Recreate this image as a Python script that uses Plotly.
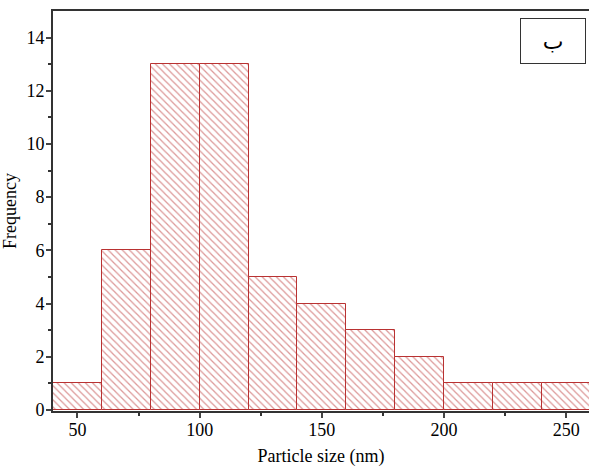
import plotly.graph_objects as go

bin_centers = [50, 70, 90, 110, 130, 150, 170, 190, 210, 230, 250]
frequency = [1, 6, 13, 13, 5, 4, 3, 2, 1, 1, 1]
x_ticks = [50, 100, 150, 200, 250]
y_ticks = [0, 2, 4, 6, 8, 10, 12, 14]

red = "rgb(185,50,50)"
font = "Liberation Serif, Times New Roman, serif"

fig = go.Figure(go.Bar(
    x=bin_centers, y=frequency, width=20,
    marker=dict(color="white", line=dict(color=red, width=1),
                pattern=dict(shape="\\", fgcolor=red, bgcolor="white", size=5, solidity=0.25)),
))

fig.update_layout(
    width=589, height=467,
    margin=dict(l=53, r=0, t=11, b=56),
    paper_bgcolor="white", plot_bgcolor="white",
    showlegend=False,
    font=dict(family=font, size=18, color="black"),
    bargap=0,
    xaxis=dict(range=[40, 259.3], tickvals=x_ticks, ticks="outside", ticklen=5, tickwidth=1.5,
               tickfont=dict(family=font, size=18), ticklabelstandoff=-4,
               showline=True, linecolor="#333", linewidth=2, mirror=True, showgrid=False, zeroline=False,
               minor=dict(tickvals=[75, 125, 175, 225], ticks="outside", ticklen=3, tickcolor="#333"),
               title=dict(text="Particle size (nm)", font=dict(family=font, size=18), standoff=12)),
    yaxis=dict(range=[-0.04, 15], tickvals=y_ticks, ticks="outside", ticklen=5, tickwidth=1.5,
               tickfont=dict(family=font, size=18), ticklabelstandoff=-2,
               showline=True, linecolor="#333", linewidth=2, showgrid=False, zeroline=False,
               minor=dict(tickvals=[1, 3, 5, 7, 9, 11, 13], ticks="outside", ticklen=3, tickcolor="#333"),
               title=dict(text="Frequency", font=dict(family=font, size=18), standoff=7)),
)

fig.add_annotation(xref="paper", yref="paper", x=0.995, y=0.982, xanchor="right", yanchor="top",
                   text="ب", showarrow=False, font=dict(family="DejaVu Sans", size=22, color="black"),
                   bordercolor="#333", borderwidth=1, borderpad=9, bgcolor="white", width=46, height=26)

fig.write_html("out.html")
